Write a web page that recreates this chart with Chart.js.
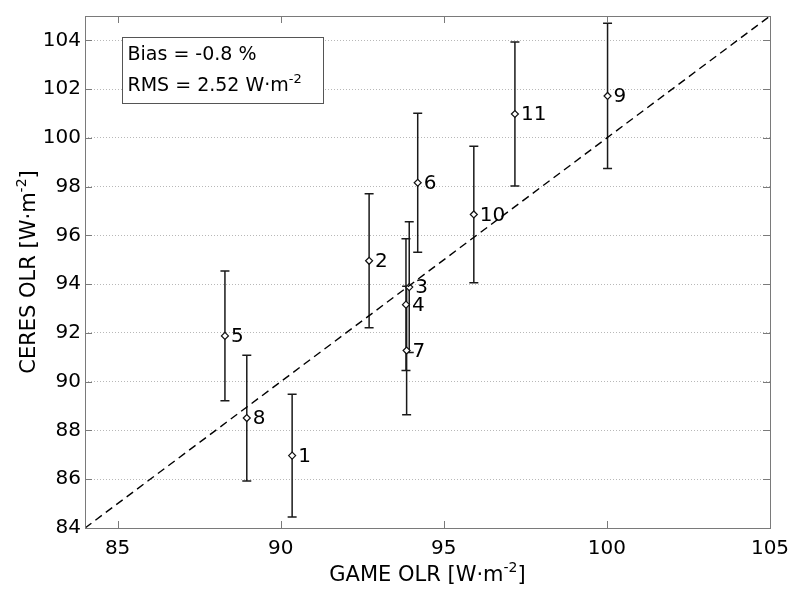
<!DOCTYPE html>
<html>
<head>
<meta charset="utf-8">
<script src="https://cdn.jsdelivr.net/npm/chart.js@4"></script>
<style>
  html, body { margin: 0; padding: 0; background: #fff; }
  canvas { display: block; }
</style>
</head>
<body>
<canvas id="olrchart" width="792" height="590"></canvas>
<script>
// estaciones y valores de OLR (W·m-2)
var ids = ['1', '2', '3', '4', '5', '6', '7', '8', '9', '10', '11'];
var gameOlr = [90.35, 92.71, 93.94, 93.84, 88.29, 94.20, 93.86, 88.96, 100.02, 95.92, 97.18];
var ceresOlr = [86.97, 94.96, 93.88, 93.16, 91.88, 98.16, 91.28, 88.51, 101.72, 96.86, 100.98];
var ceresErr = [2.52, 2.75, 2.68, 2.70, 2.66, 2.85, 2.64, 2.58, 2.98, 2.80, 2.95];

var xTicks = [85, 90, 95, 100, 105];
var yTicks = [84, 86, 88, 90, 92, 94, 96, 98, 100, 102, 104];
var xRange = [84, 105];
var yRange = [84, 105];

var biasText = 'Bias = -0.8 %';
var rmsText = 'RMS = 2.52 W·m';

var fuente = '"DejaVu Sans", sans-serif';

var puntos = gameOlr.map(function (x, i) { return { x: x, y: ceresOlr[i] }; });
var linea11 = [{ x: xRange[0], y: yRange[0] }, { x: xRange[1], y: yRange[1] }];

// texto con superindice "-2"
function textoSup(ctx, base, sup, x, y, size) {
  ctx.font = size + 'px ' + fuente;
  var w = ctx.measureText(base).width;
  ctx.fillText(base, x, y);
  ctx.font = Math.round(size * 0.68) + 'px ' + fuente;
  ctx.fillText(sup, x + w, y - size * 0.42);
  return w + ctx.measureText(sup).width;
}
function anchoSup(ctx, base, sup, size) {
  ctx.font = size + 'px ' + fuente;
  var w = ctx.measureText(base).width;
  ctx.font = Math.round(size * 0.68) + 'px ' + fuente;
  return w + ctx.measureText(sup).width;
}

var barrasError = {
  id: 'barrasError',
  beforeDatasetsDraw: function (chart) {
    var ctx = chart.ctx, xs = chart.scales.x, ys = chart.scales.y;
    ctx.save();
    ctx.strokeStyle = '#1a1a1a';
    ctx.lineWidth = 1.5;
    for (var i = 0; i < gameOlr.length; i++) {
      var px = xs.getPixelForValue(gameOlr[i]);
      var top = ys.getPixelForValue(ceresOlr[i] + ceresErr[i]);
      var bot = ys.getPixelForValue(ceresOlr[i] - ceresErr[i]);
      ctx.beginPath();
      ctx.moveTo(px, top); ctx.lineTo(px, bot);
      ctx.moveTo(px - 4.5, top); ctx.lineTo(px + 4.5, top);
      ctx.moveTo(px - 4.5, bot); ctx.lineTo(px + 4.5, bot);
      ctx.stroke();
    }
    ctx.restore();
  },
  afterDatasetsDraw: function (chart) {
    var ctx = chart.ctx, xs = chart.scales.x, ys = chart.scales.y, a = chart.chartArea;
    ctx.save();
    // numeros de estacion
    ctx.fillStyle = '#000';
    ctx.font = '20px ' + fuente;
    ctx.textBaseline = 'middle';
    ctx.textAlign = 'left';
    for (var i = 0; i < ids.length; i++) {
      ctx.fillText(ids[i], xs.getPixelForValue(gameOlr[i]) + 6, ys.getPixelForValue(ceresOlr[i]) + 1);
    }

    // marco y marcas de los ejes
    ctx.strokeStyle = '#7a7a7a';
    ctx.lineWidth = 1;
    ctx.strokeRect(Math.round(a.left) + 0.5, Math.round(a.top) + 0.5,
      Math.round(a.right - a.left), Math.round(a.bottom - a.top));
    ctx.beginPath();
    xTicks.forEach(function (v) {
      var px = Math.round(xs.getPixelForValue(v)) + 0.5;
      ctx.moveTo(px, a.bottom); ctx.lineTo(px, a.bottom - 7);
      ctx.moveTo(px, a.top); ctx.lineTo(px, a.top + 7);
    });
    yTicks.forEach(function (v) {
      var py = Math.round(ys.getPixelForValue(v)) + 0.5;
      ctx.moveTo(a.left, py); ctx.lineTo(a.left + 7, py);
      ctx.moveTo(a.right, py); ctx.lineTo(a.right - 7, py);
    });
    ctx.stroke();

    // cuadro con bias y rms
    var bx = Math.round(a.left) + 37.5, by = Math.round(a.top) + 21.5;
    ctx.fillStyle = '#fff';
    ctx.fillRect(bx, by, 201, 66);
    ctx.strokeStyle = '#555';
    ctx.strokeRect(bx, by, 201, 66);
    ctx.fillStyle = '#000';
    ctx.textBaseline = 'alphabetic';
    ctx.font = '19px ' + fuente;
    ctx.fillText(biasText, bx + 5, by + 22);
    textoSup(ctx, rmsText, '-2', bx + 5, by + 53, 19);

    // titulos de los ejes
    var size = 21;
    var wx = anchoSup(ctx, 'GAME OLR [W·m', '-2', size);
    ctx.font = size + 'px ' + fuente;
    wx += ctx.measureText(']').width;
    var cx = (a.left + a.right) / 2 - wx / 2;
    var wb = textoSup(ctx, 'GAME OLR [W·m', '-2', cx, 581, size);
    ctx.font = size + 'px ' + fuente;
    ctx.fillText(']', cx + wb, 581);

    ctx.translate(35, (a.top + a.bottom) / 2);
    ctx.rotate(-Math.PI / 2);
    var wy = anchoSup(ctx, 'CERES OLR [W·m', '-2', size);
    ctx.font = size + 'px ' + fuente;
    wy += ctx.measureText(']').width;
    var wc = textoSup(ctx, 'CERES OLR [W·m', '-2', -wy / 2, 0, size);
    ctx.font = size + 'px ' + fuente;
    ctx.fillText(']', -wy / 2 + wc, 0);
    ctx.restore();
  }
};

var ctx = document.getElementById('olrchart').getContext('2d');
var grafico = new Chart(ctx, {
  type: 'scatter',
  data: {
    datasets: [{
      type: 'line',
      data: linea11,
      borderColor: '#000',
      borderWidth: 1.4,
      borderDash: [8, 5],
      pointRadius: 0,
      fill: false
    }, {
      data: puntos,
      pointStyle: 'rectRot',
      pointRadius: 3.5,
      borderWidth: 1.2,
      borderColor: '#111',
      backgroundColor: '#fff'
    }]
  },
  options: {
    responsive: false,
    animation: false,
    layout: { padding: { top: 9, right: 22, left: 0, bottom: 0 } },
    plugins: { legend: { display: false }, tooltip: { enabled: false } },
    scales: {
      x: {
        type: 'linear',
        min: xRange[0],
        max: xRange[1],
        afterBuildTicks: function (s) { s.ticks = xTicks.map(function (v) { return { value: v }; }); },
        afterFit: function (s) { s.height = 62; },
        grid: { display: false },
        border: { display: false },
        ticks: { color: '#000', padding: 1, maxRotation: 0, font: { family: fuente, size: 20 } }
      },
      y: {
        type: 'linear',
        min: yRange[0],
        max: yRange[1],
        afterBuildTicks: function (s) { s.ticks = yTicks.map(function (v) { return { value: v }; }); },
        afterFit: function (s) { s.width = 85; },
        grid: { color: '#b8b8b8', lineWidth: 1, drawTicks: false },
        border: { display: false, dash: [1, 2] },
        ticks: { color: '#000', padding: 4, font: { family: fuente, size: 20 } }
      }
    }
  },
  plugins: [barrasError]
});
</script>
</body>
</html>
